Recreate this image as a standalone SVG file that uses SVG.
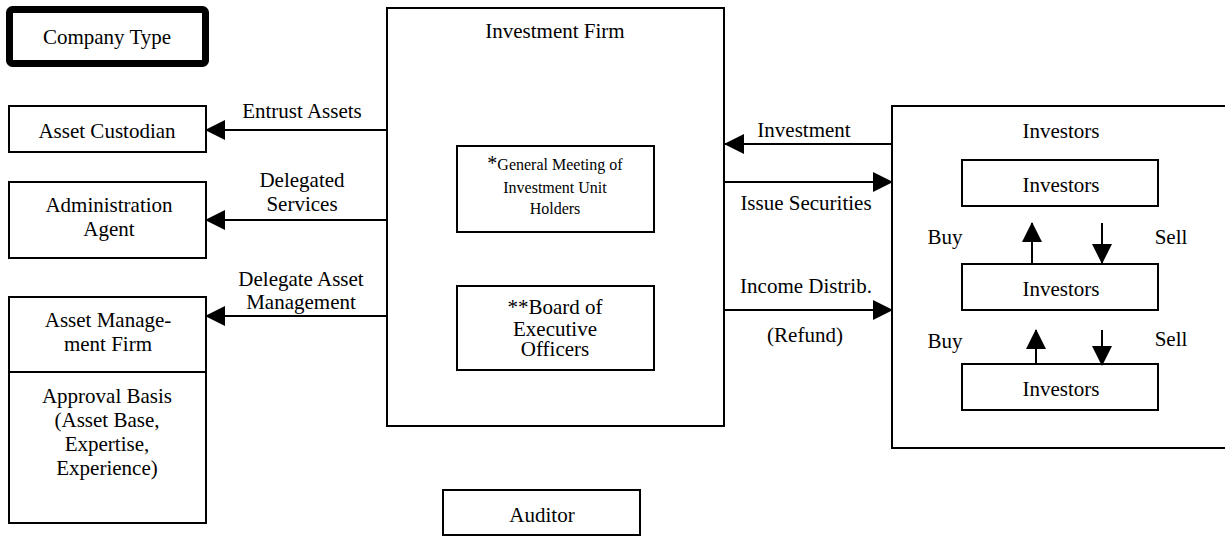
<svg xmlns="http://www.w3.org/2000/svg" width="1225" height="536" viewBox="0 0 1225 536">
  <style>
    .box { fill: #fff; stroke: #000; stroke-width: 2; }
    .line { fill: none; stroke: #000; stroke-width: 2; }
    text { font-family: "Liberation Serif", "Times New Roman", serif; fill: #000; text-anchor: middle; }
    .t21 { font-size: 21px; }
    .t16 { font-size: 16px; }
  </style>
  <defs>
    <marker id="head" viewBox="0 0 20 20" refX="19" refY="10" markerWidth="20" markerHeight="20" markerUnits="userSpaceOnUse" orient="auto">
      <path d="M0,0 L20,10 L0,20 Z" fill="#000"/>
    </marker>
  </defs>

  <!-- legend -->
  <g id="company-type">
    <rect x="9.5" y="9.5" width="196" height="54" rx="3" fill="#fff" stroke="#000" stroke-width="7"/>
    <text class="t21" x="107" y="44">Company Type</text>
  </g>

  <g id="asset-custodian">
    <rect class="box" x="9" y="106" width="197" height="46"/>
    <text class="t21" x="107" y="138">Asset Custodian</text>
  </g>

  <g id="administration-agent">
    <rect class="box" x="9" y="182" width="197" height="76"/>
    <text class="t21" x="109" y="212">Administration</text>
    <text class="t21" x="109" y="236">Agent</text>
  </g>

  <g id="asset-management-firm">
    <rect class="box" x="9" y="297" width="197" height="226"/>
    <line class="line" x1="9" y1="372" x2="206" y2="372"/>
    <text class="t21" x="108" y="327">Asset Manage-</text>
    <text class="t21" x="108" y="351">ment Firm</text>
    <text class="t21" x="107" y="403">Approval Basis</text>
    <text class="t21" x="107" y="427">(Asset Base,</text>
    <text class="t21" x="107" y="451">Expertise,</text>
    <text class="t21" x="107" y="475">Experience)</text>
  </g>

  <g id="investment-firm">
    <rect class="box" x="387" y="8" width="337" height="418"/>
    <text class="t21" x="555" y="38">Investment Firm</text>
  </g>

  <g id="general-meeting">
    <rect class="box" x="457" y="146" width="197" height="86"/>
    <text class="t16" x="555" y="170"><tspan font-size="20px">*</tspan>General Meeting of</text>
    <text class="t16" x="555" y="193">Investment Unit</text>
    <text class="t16" x="555" y="214">Holders</text>
  </g>

  <g id="board">
    <rect class="box" x="457" y="286" width="197" height="84"/>
    <text class="t21" x="555" y="314">**Board of</text>
    <text class="t21" x="555" y="336">Executive</text>
    <text class="t21" x="555" y="356">Officers</text>
  </g>

  <g id="auditor">
    <rect class="box" x="443" y="490" width="197" height="45"/>
    <text class="t21" x="542" y="522">Auditor</text>
  </g>

  <g id="investors">
    <rect class="box" x="892" y="106" width="340" height="342"/>
    <text class="t21" x="1061" y="138">Investors</text>
  </g>

  <g id="investors-1">
    <rect class="box" x="962" y="160" width="196" height="46"/>
    <text class="t21" x="1061" y="192">Investors</text>
  </g>

  <g id="investors-2">
    <rect class="box" x="962" y="264" width="196" height="46"/>
    <text class="t21" x="1061" y="296">Investors</text>
  </g>

  <g id="investors-3">
    <rect class="box" x="962" y="364" width="196" height="46"/>
    <text class="t21" x="1061" y="396">Investors</text>
  </g>

  <g id="connectors">
    <line class="line" x1="387" y1="130" x2="206" y2="130" marker-end="url(#head)"/>
    <text class="t21" x="302" y="118">Entrust Assets</text>

    <line class="line" x1="387" y1="220" x2="206" y2="220" marker-end="url(#head)"/>
    <text class="t21" x="302" y="187">Delegated</text>
    <text class="t21" x="302" y="211">Services</text>

    <line class="line" x1="387" y1="316" x2="206" y2="316" marker-end="url(#head)"/>
    <text class="t21" x="301" y="286">Delegate Asset</text>
    <text class="t21" x="301" y="309">Management</text>

    <line class="line" x1="892" y1="144" x2="725" y2="144" marker-end="url(#head)"/>
    <text class="t21" x="804" y="137">Investment</text>

    <line class="line" x1="724" y1="182" x2="892" y2="182" marker-end="url(#head)"/>
    <text class="t21" x="806" y="210">Issue Securities</text>

    <line class="line" x1="724" y1="310" x2="892" y2="310" marker-end="url(#head)"/>
    <text class="t21" x="806" y="293">Income Distrib.</text>
    <text class="t21" x="805" y="342">(Refund)</text>

    <line class="line" x1="1032" y1="264" x2="1032" y2="223" marker-end="url(#head)"/>
    <line class="line" x1="1102" y1="223" x2="1102" y2="263" marker-end="url(#head)"/>
    <text class="t21" x="945" y="244">Buy</text>
    <text class="t21" x="1171" y="244">Sell</text>

    <line class="line" x1="1036" y1="364" x2="1036" y2="330" marker-end="url(#head)"/>
    <line class="line" x1="1102" y1="330" x2="1102" y2="365" marker-end="url(#head)"/>
    <text class="t21" x="945" y="348">Buy</text>
    <text class="t21" x="1171" y="346">Sell</text>
  </g>
</svg>
